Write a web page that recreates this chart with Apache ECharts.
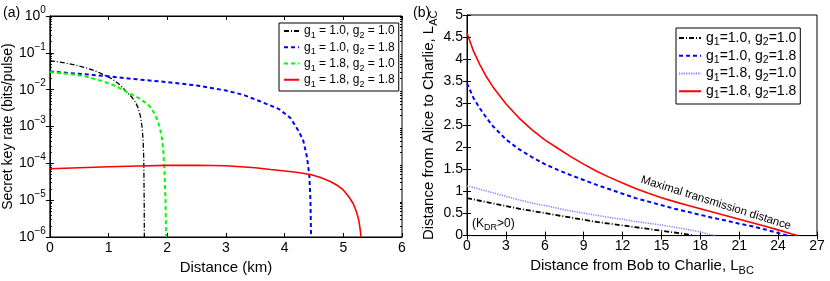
<!DOCTYPE html>
<html><head><meta charset="utf-8">
<script src="https://cdn.jsdelivr.net/npm/echarts@6/dist/echarts.min.js"></script>
<style>html,body{margin:0;padding:0;background:#fff}#c{width:830px;height:281px}</style>
</head><body><div id="c"></div>
<script>
// ---------- Panel (a): secret key rate vs distance ----------
const aX_11 = [0, 0.2, 0.4, 0.6, 0.8, 0.93, 1.05, 1.16, 1.25, 1.32, 1.40, 1.46, 1.50, 1.54, 1.57, 1.59, 1.60, 1.607, 1.61];
const aY_11 = [0.061, 0.055, 0.048, 0.040, 0.031, 0.025, 0.020, 0.015, 0.011, 0.0083, 0.0062, 0.0045, 0.0033, 0.002, 0.001, 0.0004, 0.00012, 0.00001, 0.000001];
const aX_18 = [0, 0.5, 1.0, 1.5, 2.0, 2.5, 3.0, 3.3, 3.6, 3.9, 4.1, 4.25, 4.32, 4.38, 4.42, 4.44, 4.45];
const aY_18 = [0.031, 0.027, 0.023, 0.019, 0.016, 0.013, 0.0095, 0.0072, 0.0047, 0.003, 0.0017, 0.0007, 0.0004, 0.00015, 0.00005, 0.00001, 0.000001];
const aX_81 = [0, 0.3, 0.6, 0.9, 1.1, 1.32, 1.45, 1.55, 1.65, 1.72, 1.80, 1.86, 1.90, 1.93, 1.95, 1.97, 1.98];
const aY_81 = [0.030, 0.027, 0.023, 0.017, 0.013, 0.0085, 0.0068, 0.0054, 0.0042, 0.0033, 0.002, 0.0011, 0.0006, 0.00025, 0.00008, 0.00001, 0.000001];
const aX_88 = [0, 0.5, 1.0, 1.5, 2.0, 2.5, 3.0, 3.5, 3.76, 4.0, 4.2, 4.44, 4.6, 4.78, 4.9, 5.0, 5.1, 5.17, 5.22, 5.25, 5.27, 5.29, 5.30];
const aY_88 = [7.1e-5, 7.6e-5, 8.1e-5, 8.5e-5, 8.8e-5, 8.9e-5, 8.6e-5, 7.6e-5, 6.8e-5, 6.2e-5, 5.7e-5, 5.0e-5, 4.2e-5, 3.2e-5, 2.5e-5, 1.9e-5, 1.2e-5, 8e-6, 5e-6, 3.5e-6, 2.5e-6, 1.5e-6, 1e-6];
const aNames = ['g1 = 1.0, g2 = 1.0', 'g1 = 1.0, g2 = 1.8', 'g1 = 1.8, g2 = 1.0', 'g1 = 1.8, g2 = 1.8'];
const aMinorTicks = [];
[1e-6, 1e-5, 1e-4, 1e-3, 1e-2, 1e-1].forEach(d => [2, 3, 4, 5, 6, 7, 8, 9].forEach(m => aMinorTicks.push(+(d * m).toPrecision(3))));

// ---------- Panel (b): L_AC vs L_BC ----------
const bX_11 = [0, 1, 2, 3, 4, 5, 6, 7, 8, 9, 10, 11, 12, 13, 14, 15, 16, 17, 17.5];
const bY_11 = [0.85, 0.79, 0.73, 0.67, 0.61, 0.56, 0.51, 0.46, 0.41, 0.36, 0.31, 0.27, 0.23, 0.19, 0.15, 0.11, 0.07, 0.03, 0];
const bX_18 = [0, 0.5, 1, 1.5, 2, 3, 4, 5, 6, 7, 8, 9, 10, 11, 12, 13, 14, 15, 16, 17, 18, 19, 20, 21, 22, 23, 24, 24.7];
const bY_18 = [3.45, 3.12, 2.88, 2.67, 2.48, 2.18, 1.96, 1.78, 1.62, 1.49, 1.37, 1.26, 1.15, 1.05, 0.95, 0.85, 0.77, 0.69, 0.61, 0.54, 0.47, 0.40, 0.34, 0.27, 0.21, 0.14, 0.06, 0];
const bX_81 = [0, 1, 2, 3, 4, 5, 6, 7, 8, 9, 10, 11, 12, 13, 14, 15, 16, 17, 18, 19, 19.1];
const bY_81 = [1.13, 1.05, 0.97, 0.89, 0.81, 0.74, 0.68, 0.62, 0.56, 0.51, 0.46, 0.41, 0.37, 0.32, 0.28, 0.24, 0.19, 0.14, 0.08, 0.01, 0];
const bX_88 = [0, 0.5, 1, 1.5, 2, 3, 4, 5, 6, 7, 8, 9, 10, 11, 12, 13, 14, 15, 16, 17, 18, 19, 20, 21, 22, 23, 24, 25, 25.5];
const bY_88 = [4.59, 4.18, 3.87, 3.60, 3.37, 2.99, 2.67, 2.40, 2.17, 1.98, 1.79, 1.62, 1.46, 1.32, 1.19, 1.07, 0.96, 0.86, 0.77, 0.69, 0.61, 0.53, 0.45, 0.37, 0.29, 0.21, 0.13, 0.04, 0];
const bNames = ['g1=1.0, g2=1.0', 'g1=1.0, g2=1.8', 'g1=1.8, g2=1.0', 'g1=1.8, g2=1.8'];

const FONT = 'Liberation Sans';
const zip = (xs, ys) => xs.map((x, i) => [x, ys[i]]);

function subName(name) {
  return name.split(/(g\d)/).filter(s => s.length).map(s => {
    if (/^g\d$/.test(s)) return '{n|g}{d|' + s[1] + '}';
    return '{n|' + s + '}';
  }).join('');
}
function logLabel(v) {
  const e = Math.round(Math.log10(v));
  return '{b|10}{s|' + (e === 0 ? '0' : '\u2212' + (-e)) + '}';
}

const chart = echarts.init(document.getElementById('c'), null, {renderer: 'canvas'});

const tickStyle = {show: true, inside: true, length: 4, lineStyle: {color: '#000', width: 1}};
const lineAx = {show: true, lineStyle: {color: '#000', width: 1}};

function mkLine(name, data, xi, yi, color, width, type) {
  return {
    type: 'line', name: name, data: data, xAxisIndex: xi, yAxisIndex: yi,
    showSymbol: false, symbol: 'none', smooth: false, clip: true, animation: false,
    lineStyle: {color: color, width: width, type: type}, itemStyle: {color: color}
  };
}
function minorAxis(pos) {
  return {gridIndex: 0, type: 'log', logBase: 10, min: 1e-6, max: 1, position: pos,
    axisLine: {show: false}, splitLine: {show: false}, axisLabel: {show: false},
    axisTick: {show: true, inside: true, length: 2, customValues: aMinorTicks, lineStyle: {color: '#000', width: 1}}};
}
const subRich = (fs) => ({
  n: {fontSize: fs, lineHeight: 20, fontFamily: FONT, color: '#000'},
  d: {fontSize: Math.round(fs * 0.75), lineHeight: 10, verticalAlign: 'bottom', fontFamily: FONT, color: '#000'}
});

const option = {
  animation: false,
  backgroundColor: '#fff',
  textStyle: {fontFamily: FONT},
  grid: [
    {left: 48, right: 428, top: 16, bottom: 44, show: true, borderColor: '#000', borderWidth: 1, backgroundColor: '#fff'},
    {left: 467, right: 13, top: 15, bottom: 43, show: true, borderColor: '#000', borderWidth: 1, backgroundColor: '#fff'}
  ],
  xAxis: [
    {gridIndex: 0, type: 'value', min: 0, max: 6, interval: 1, position: 'bottom',
     axisLine: lineAx, axisTick: tickStyle, splitLine: {show: false},
     axisLabel: {color: '#000', fontSize: 14, fontFamily: FONT, margin: 4},
     name: 'Distance (km)', nameLocation: 'middle', nameGap: 15,
     nameTextStyle: {color: '#000', fontSize: 15, fontFamily: FONT}},
    {gridIndex: 0, type: 'value', min: 0, max: 6, interval: 1, position: 'top',
     axisLine: lineAx, axisTick: tickStyle, splitLine: {show: false}, axisLabel: {show: false}},
    {gridIndex: 1, type: 'value', min: 0, max: 27, interval: 3, position: 'bottom',
     axisLine: lineAx, axisTick: tickStyle, splitLine: {show: false},
     axisLabel: {color: '#000', fontSize: 14, fontFamily: FONT, margin: 4},
     name: '{n|Distance from Bob to Charlie, L}{d|BC}', nameLocation: 'middle', nameGap: 19,
     nameTextStyle: {color: '#000', fontFamily: FONT, rich: subRich(15)}},
    {gridIndex: 1, type: 'value', min: 0, max: 27, interval: 3, position: 'top',
     axisLine: lineAx, axisTick: tickStyle, splitLine: {show: false}, axisLabel: {show: false}}
  ],
  yAxis: [
    {gridIndex: 0, type: 'log', logBase: 10, min: 1e-6, max: 1, splitNumber: 6, position: 'left',
     axisLine: lineAx, axisTick: tickStyle, splitLine: {show: false},
     axisLabel: {color: '#000', margin: 4, formatter: logLabel,
       rich: {b: {fontSize: 14, lineHeight: 22, verticalAlign: 'middle', fontFamily: FONT, color: '#000'},
              s: {fontSize: 10, lineHeight: 10, verticalAlign: 'top', fontFamily: FONT, color: '#000'}}},
     name: 'Secret key rate (bits/pulse)', nameLocation: 'middle', nameGap: 33,
     nameTextStyle: {color: '#000', fontSize: 14, fontFamily: FONT}},
    {gridIndex: 0, type: 'log', logBase: 10, min: 1e-6, max: 1, splitNumber: 6, position: 'right',
     axisLine: lineAx, axisTick: tickStyle, splitLine: {show: false}, axisLabel: {show: false}},
    {gridIndex: 1, type: 'value', min: 0, max: 5, interval: 0.5, position: 'left',
     axisLine: lineAx, axisTick: tickStyle, splitLine: {show: false},
     axisLabel: {color: '#000', fontSize: 14, fontFamily: FONT, margin: 4},
     name: '{n|Distance from Alice to Charlie, L}{d|AC}', nameLocation: 'middle', nameGap: 28,
     nameTextStyle: {color: '#000', fontFamily: FONT, rich: subRich(15)}},
    {gridIndex: 1, type: 'value', min: 0, max: 5, interval: 0.5, position: 'right',
     axisLine: lineAx, axisTick: tickStyle, splitLine: {show: false}, axisLabel: {show: false}},
    minorAxis('left'),
    minorAxis('right')
  ],
  legend: [
    {data: aNames, orient: 'vertical', left: 279, top: 23, itemWidth: 15, itemHeight: 14, itemGap: 1,
     padding: [2, 4, 2, 4], borderColor: '#000', borderWidth: 1, backgroundColor: '#fff',
     formatter: subName, selectedMode: false, itemStyle: {opacity: 0},
     textStyle: {color: '#000', fontFamily: FONT,
       rich: {n: {fontSize: 12, lineHeight: 18.5, fontFamily: FONT, color: '#000'},
              d: {fontSize: 9, lineHeight: 9, verticalAlign: 'bottom', fontFamily: FONT, color: '#000'}}}},
    {data: bNames, orient: 'vertical', left: 676, top: 28, itemWidth: 22, itemHeight: 14, itemGap: 1,
     padding: [3, 4, 3, 2], borderColor: '#000', borderWidth: 1, backgroundColor: '#fff',
     formatter: subName, selectedMode: false, itemStyle: {opacity: 0},
     textStyle: {color: '#000', fontFamily: FONT,
       rich: {n: {fontSize: 14, lineHeight: 19.5, fontFamily: FONT, color: '#000'},
              d: {fontSize: 10.5, lineHeight: 10, verticalAlign: 'bottom', fontFamily: FONT, color: '#000'}}}}
  ],
  graphic: [
    {type: 'text', left: 3, top: 6, style: {text: '(a)', font: '14px ' + FONT, fill: '#000'}},
    {type: 'text', left: 413, top: 6, style: {text: '(b)', font: '14px ' + FONT, fill: '#000'}},
    {type: 'text', x: 716, y: 203, rotation: -0.305, style: {text: 'Maximal transmission distance',
      font: '11.5px ' + FONT, fill: '#000', align: 'center', verticalAlign: 'middle'}},
    {type: 'text', left: 472, top: 218, style: {text: '{n|(K}{d|DR}{n|>0)}', fill: '#000',
      rich: {n: {fontSize: 12, lineHeight: 16, fontFamily: FONT, color: '#000'},
             d: {fontSize: 9, lineHeight: 9, verticalAlign: 'bottom', fontFamily: FONT, color: '#000'}}}}
  ],
  series: [
    mkLine(aNames[0], zip(aX_11, aY_11), 0, 0, '#000000', 1.3, [5, 2, 1, 2]),
    mkLine(aNames[1], zip(aX_18, aY_18), 0, 0, '#0000ff', 2, [4, 3]),
    mkLine(aNames[2], zip(aX_81, aY_81), 0, 0, '#00ff00', 2, [4, 3]),
    mkLine(aNames[3], zip(aX_88, aY_88), 0, 0, '#ff0000', 1.6, 'solid'),
    mkLine(bNames[0], zip(bX_11, bY_11), 2, 2, '#000000', 1.8, [5, 2, 1, 2]),
    mkLine(bNames[1], zip(bX_18, bY_18), 2, 2, '#0000ff', 2, [4, 3]),
    mkLine(bNames[2], zip(bX_81, bY_81), 2, 2, '#8080ff', 1.5, [1.2, 1.2]),
    mkLine(bNames[3], zip(bX_88, bY_88), 2, 2, '#ff0000', 1.6, 'solid')
  ]
};
chart.setOption(option);
</script></body></html>
